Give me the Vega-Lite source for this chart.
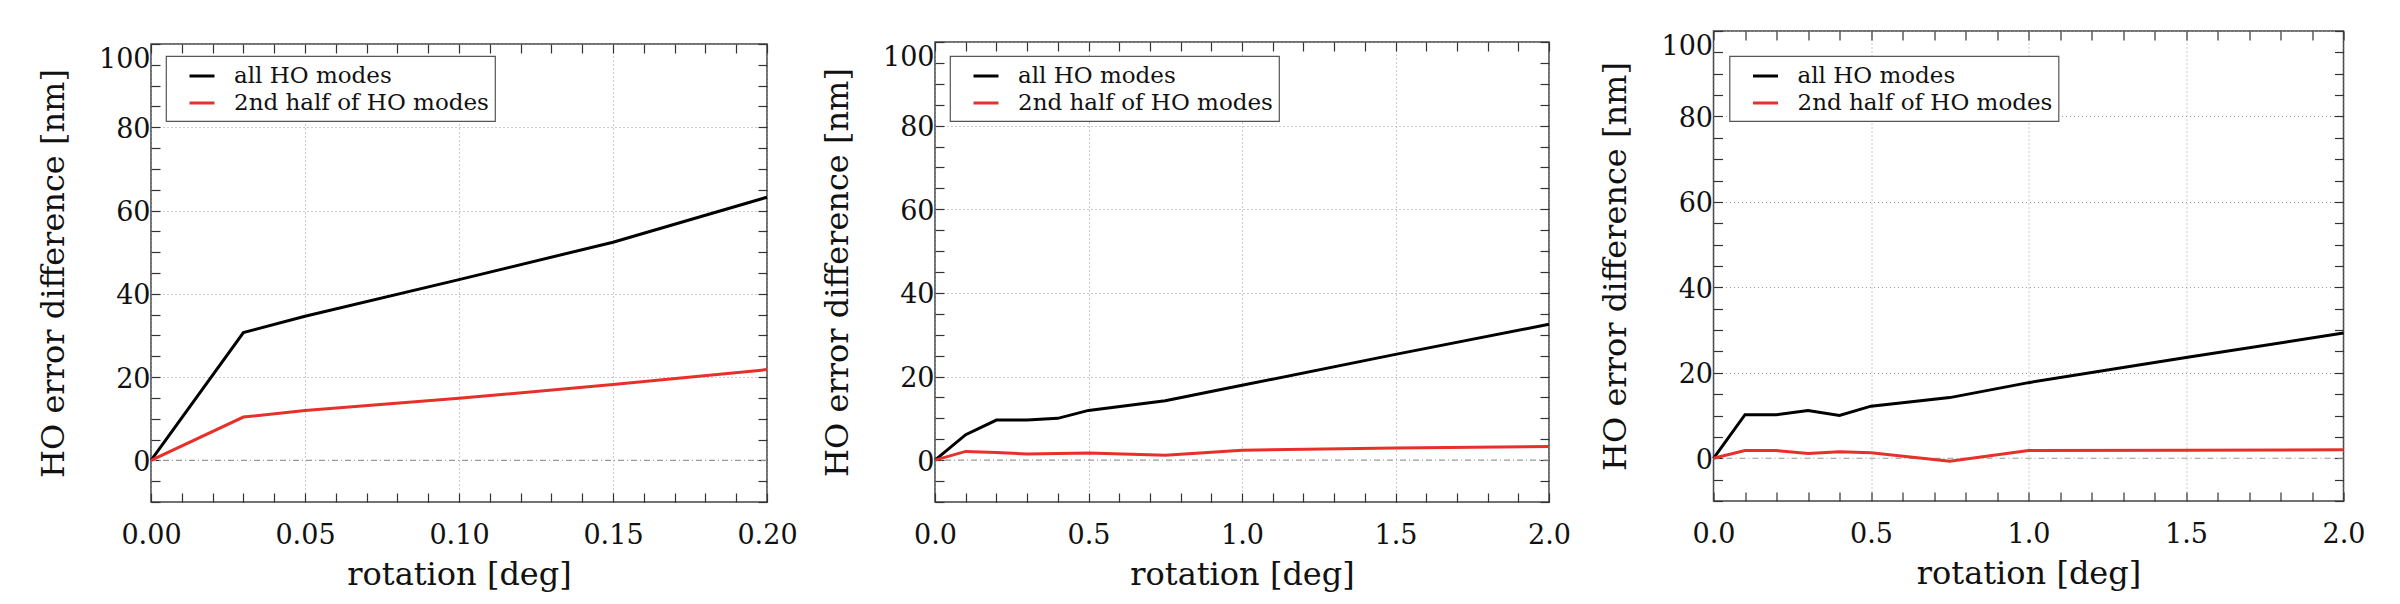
{
  "$schema": "https://vega.github.io/schema/vega-lite/v6.json",
  "padding": {"left": 36, "top": 29, "right": 5, "bottom": 5},
  "datasets": {
    "p1": [
      {"rotation": 0, "diff": 0, "series": "all HO modes"},
      {"rotation": 0.03, "diff": 30.7, "series": "all HO modes"},
      {"rotation": 0.05, "diff": 34.6, "series": "all HO modes"},
      {"rotation": 0.1, "diff": 43.4, "series": "all HO modes"},
      {"rotation": 0.15, "diff": 52.4, "series": "all HO modes"},
      {"rotation": 0.2, "diff": 63.2, "series": "all HO modes"},
      {"rotation": 0, "diff": 0, "series": "2nd half of HO modes"},
      {"rotation": 0.03, "diff": 10.4, "series": "2nd half of HO modes"},
      {"rotation": 0.05, "diff": 12.0, "series": "2nd half of HO modes"},
      {"rotation": 0.1, "diff": 14.9, "series": "2nd half of HO modes"},
      {"rotation": 0.15, "diff": 18.2, "series": "2nd half of HO modes"},
      {"rotation": 0.2, "diff": 21.8, "series": "2nd half of HO modes"}
    ],
    "p2": [
      {"rotation": 0, "diff": 0, "series": "all HO modes"},
      {"rotation": 0.1, "diff": 6.1, "series": "all HO modes"},
      {"rotation": 0.2, "diff": 9.6, "series": "all HO modes"},
      {"rotation": 0.3, "diff": 9.6, "series": "all HO modes"},
      {"rotation": 0.4, "diff": 10.0, "series": "all HO modes"},
      {"rotation": 0.5, "diff": 11.9, "series": "all HO modes"},
      {"rotation": 0.75, "diff": 14.2, "series": "all HO modes"},
      {"rotation": 1.0, "diff": 17.9, "series": "all HO modes"},
      {"rotation": 1.5, "diff": 25.3, "series": "all HO modes"},
      {"rotation": 2.0, "diff": 32.5, "series": "all HO modes"},
      {"rotation": 0, "diff": 0, "series": "2nd half of HO modes"},
      {"rotation": 0.1, "diff": 2.1, "series": "2nd half of HO modes"},
      {"rotation": 0.2, "diff": 1.85, "series": "2nd half of HO modes"},
      {"rotation": 0.3, "diff": 1.5, "series": "2nd half of HO modes"},
      {"rotation": 0.4, "diff": 1.6, "series": "2nd half of HO modes"},
      {"rotation": 0.5, "diff": 1.7, "series": "2nd half of HO modes"},
      {"rotation": 0.75, "diff": 1.2, "series": "2nd half of HO modes"},
      {"rotation": 1.0, "diff": 2.4, "series": "2nd half of HO modes"},
      {"rotation": 1.5, "diff": 2.9, "series": "2nd half of HO modes"},
      {"rotation": 2.0, "diff": 3.3, "series": "2nd half of HO modes"}
    ],
    "p3": [
      {"rotation": 0, "diff": 0, "series": "all HO modes"},
      {"rotation": 0.1, "diff": 10.2, "series": "all HO modes"},
      {"rotation": 0.2, "diff": 10.2, "series": "all HO modes"},
      {"rotation": 0.3, "diff": 11.2, "series": "all HO modes"},
      {"rotation": 0.4, "diff": 10.0, "series": "all HO modes"},
      {"rotation": 0.5, "diff": 12.2, "series": "all HO modes"},
      {"rotation": 0.75, "diff": 14.2, "series": "all HO modes"},
      {"rotation": 1.0, "diff": 17.7, "series": "all HO modes"},
      {"rotation": 1.5, "diff": 23.6, "series": "all HO modes"},
      {"rotation": 2.0, "diff": 29.3, "series": "all HO modes"},
      {"rotation": 0, "diff": 0, "series": "2nd half of HO modes"},
      {"rotation": 0.1, "diff": 1.8, "series": "2nd half of HO modes"},
      {"rotation": 0.2, "diff": 1.8, "series": "2nd half of HO modes"},
      {"rotation": 0.3, "diff": 1.1, "series": "2nd half of HO modes"},
      {"rotation": 0.4, "diff": 1.5, "series": "2nd half of HO modes"},
      {"rotation": 0.5, "diff": 1.3, "series": "2nd half of HO modes"},
      {"rotation": 0.75, "diff": -0.7, "series": "2nd half of HO modes"},
      {"rotation": 1.0, "diff": 1.8, "series": "2nd half of HO modes"},
      {"rotation": 1.5, "diff": 1.9, "series": "2nd half of HO modes"},
      {"rotation": 2.0, "diff": 2.0, "series": "2nd half of HO modes"}
    ]
  },
  "spacing": 22,
  "hconcat": [
    {
      "spacing": 0,
      "vconcat": [
        {
          "width": 616,
          "height": 10.5,
          "data": {"values": []},
          "mark": "point",
          "view": {"fill": "white", "stroke": null}
        },
        {
          "width": 616,
          "height": 458,
          "data": {"name": "p1"},
          "layer": [
            {
              "data": {"values": [{}]},
              "mark": {"type": "rule", "color": "#999999", "strokeDash": [6, 3, 1, 3], "strokeWidth": 1.2},
              "encoding": {"y": {"datum": 0, "type": "quantitative", "scale": {"domain": [-10, 100], "nice": false}, "axis": null}}
            },
            {
              "mark": {"type": "line", "strokeWidth": 3},
              "encoding": {
                "x": {
                  "field": "rotation", "type": "quantitative",
                  "scale": {"domain": [0, 0.2], "nice": false, "zero": false},
                  "axis": {
                    "orient": "bottom",
                    "values": [0, 0.01, 0.02, 0.03, 0.04, 0.05, 0.06, 0.07, 0.08, 0.09, 0.1, 0.11, 0.12, 0.13, 0.14, 0.15, 0.16, 0.17, 0.18, 0.19, 0.2],
                    "labelExpr": "abs(datum.value*20-round(datum.value*20))<0.001 ? format(datum.value, '.2f') : ''",
                    "grid": true,
                    "gridOpacity": {"condition": {"test": "abs(datum.value*20-round(datum.value*20))<0.001", "value": 1}, "value": 0},
                    "labelFlush": false,
                    "labelPadding": 29,
                    "title": "rotation [deg]",
                    "titlePadding": 11
                  }
                },
                "y": {
                  "field": "diff", "type": "quantitative",
                  "scale": {"domain": [-10, 100], "nice": false},
                  "axis": {
                    "orient": "left",
                    "values": [-10, -5, 0, 5, 10, 15, 20, 25, 30, 35, 40, 45, 50, 55, 60, 65, 70, 75, 80, 85, 90, 95, 100],
                    "labelExpr": "datum.value % 20 == 0 ? datum.label : ''",
                    "grid": true,
                    "gridOpacity": {"condition": {"test": "datum.value % 20 == 0 && datum.value != 0", "value": 1}, "value": 0},
                    "labelFlush": true,
                    "labelFlushOffset": 0,
                    "labelOffset": 2,
                    "labelPadding": 10,
                    "title": "HO error difference [nm]",
                    "titlePadding": 28
                  }
                },
                "color": {
                  "field": "series", "type": "nominal",
                  "scale": {"domain": ["all HO modes", "2nd half of HO modes"], "range": ["#000000", "#e8302b"]},
                  "legend": {"orient": "none", "legendX": 15, "legendY": 25}
                }
              }
            },
            {
              "mark": {"type": "line", "opacity": 0},
              "encoding": {
                "x": {
                  "field": "rotation", "type": "quantitative",
                  "scale": {"domain": [0, 0.2], "nice": false, "zero": false},
                  "axis": {
                    "orient": "top",
                    "values": [0, 0.01, 0.02, 0.03, 0.04, 0.05, 0.06, 0.07, 0.08, 0.09, 0.1, 0.11, 0.12, 0.13, 0.14, 0.15, 0.16, 0.17, 0.18, 0.19, 0.2],
                    "labels": false, "grid": false, "title": null
                  }
                },
                "y": {
                  "field": "diff", "type": "quantitative",
                  "scale": {"domain": [-10, 100], "nice": false},
                  "axis": {
                    "orient": "right",
                    "values": [-10, -5, 0, 5, 10, 15, 20, 25, 30, 35, 40, 45, 50, 55, 60, 65, 70, 75, 80, 85, 90, 95, 100],
                    "labels": false, "grid": false, "title": null
                  }
                }
              }
            }
          ],
          "resolve": {"axis": {"x": "independent", "y": "independent"}}
        }
      ]
    },
    {
      "spacing": 26.5,
      "hconcat": [
        {
          "spacing": 0,
          "vconcat": [
            {
              "width": 614,
              "height": 8.6,
              "data": {"values": []},
              "mark": "point",
              "view": {"fill": "white", "stroke": null}
            },
            {
              "width": 614,
              "height": 460,
              "data": {"name": "p2"},
              "layer": [
                {
                  "data": {"values": [{}]},
                  "mark": {"type": "rule", "color": "#999999", "strokeDash": [6, 3, 1, 3], "strokeWidth": 1.2},
                  "encoding": {"y": {"datum": 0, "type": "quantitative", "scale": {"domain": [-10, 100], "nice": false}, "axis": null}}
                },
                {
                  "mark": {"type": "line", "strokeWidth": 3},
                  "encoding": {
                    "x": {
                      "field": "rotation", "type": "quantitative",
                      "scale": {"domain": [0, 2], "nice": false, "zero": false},
                      "axis": {
                        "orient": "bottom",
                        "values": [0, 0.1, 0.2, 0.3, 0.4, 0.5, 0.6, 0.7, 0.8, 0.9, 1.0, 1.1, 1.2, 1.3, 1.4, 1.5, 1.6, 1.7, 1.8, 1.9, 2.0],
                        "labelExpr": "abs(datum.value*2-round(datum.value*2))<0.001 ? format(datum.value, '.1f') : ''",
                        "grid": true,
                        "gridOpacity": {"condition": {"test": "abs(datum.value*2-round(datum.value*2))<0.001", "value": 1}, "value": 0},
                        "labelFlush": false,
                        "labelPadding": 29,
                        "title": "rotation [deg]",
                        "titlePadding": 11
                      }
                    },
                    "y": {
                      "field": "diff", "type": "quantitative",
                      "scale": {"domain": [-10, 100], "nice": false},
                      "axis": {
                        "orient": "left",
                        "values": [-10, -5, 0, 5, 10, 15, 20, 25, 30, 35, 40, 45, 50, 55, 60, 65, 70, 75, 80, 85, 90, 95, 100],
                        "labelExpr": "datum.value % 20 == 0 ? datum.label : ''",
                        "grid": true,
                        "gridOpacity": {"condition": {"test": "datum.value % 20 == 0 && datum.value != 0", "value": 1}, "value": 0},
                        "labelFlush": true,
                        "labelFlushOffset": 0,
                        "labelOffset": 2,
                        "labelPadding": 10,
                        "title": "HO error difference [nm]",
                        "titlePadding": 28
                      }
                    },
                    "color": {
                      "field": "series", "type": "nominal",
                      "scale": {"domain": ["all HO modes", "2nd half of HO modes"], "range": ["#000000", "#e8302b"]},
                      "legend": {"orient": "none", "legendX": 15, "legendY": 25}
                    }
                  }
                },
                {
                  "mark": {"type": "line", "opacity": 0},
                  "encoding": {
                    "x": {
                      "field": "rotation", "type": "quantitative",
                      "scale": {"domain": [0, 2], "nice": false, "zero": false},
                      "axis": {
                        "orient": "top",
                        "values": [0, 0.1, 0.2, 0.3, 0.4, 0.5, 0.6, 0.7, 0.8, 0.9, 1.0, 1.1, 1.2, 1.3, 1.4, 1.5, 1.6, 1.7, 1.8, 1.9, 2.0],
                        "labels": false, "grid": false, "title": null
                      }
                    },
                    "y": {
                      "field": "diff", "type": "quantitative",
                      "scale": {"domain": [-10, 100], "nice": false},
                      "axis": {
                        "orient": "right",
                        "values": [-10, -5, 0, 5, 10, 15, 20, 25, 30, 35, 40, 45, 50, 55, 60, 65, 70, 75, 80, 85, 90, 95, 100],
                        "labels": false, "grid": false, "title": null
                      }
                    }
                  }
                }
              ],
              "resolve": {"axis": {"x": "independent", "y": "independent"}}
            }
          ]
        },
        {
          "width": 630,
          "height": 470,
          "data": {"name": "p3"},
          "layer": [
            {
              "data": {"values": [{}]},
              "mark": {"type": "rule", "color": "#999999", "strokeDash": [6, 3, 1, 3], "strokeWidth": 1.2},
              "encoding": {"y": {"datum": 0, "type": "quantitative", "scale": {"domain": [-10, 100], "nice": false}, "axis": null}}
            },
            {
              "mark": {"type": "line", "strokeWidth": 3},
              "encoding": {
                "x": {
                  "field": "rotation", "type": "quantitative",
                  "scale": {"domain": [0, 2], "nice": false, "zero": false},
                  "axis": {
                    "orient": "bottom",
                    "values": [0, 0.1, 0.2, 0.3, 0.4, 0.5, 0.6, 0.7, 0.8, 0.9, 1.0, 1.1, 1.2, 1.3, 1.4, 1.5, 1.6, 1.7, 1.8, 1.9, 2.0],
                    "labelExpr": "abs(datum.value*2-round(datum.value*2))<0.001 ? format(datum.value, '.1f') : ''",
                    "grid": true,
                    "gridOpacity": {"condition": {"test": "abs(datum.value*2-round(datum.value*2))<0.001", "value": 1}, "value": 0},
                    "labelFlush": false,
                    "labelPadding": 29,
                    "title": "rotation [deg]",
                    "titlePadding": 11
                  }
                },
                "y": {
                  "field": "diff", "type": "quantitative",
                  "scale": {"domain": [-10, 100], "nice": false},
                  "axis": {
                    "orient": "left",
                    "values": [-10, -5, 0, 5, 10, 15, 20, 25, 30, 35, 40, 45, 50, 55, 60, 65, 70, 75, 80, 85, 90, 95, 100],
                    "labelExpr": "datum.value % 20 == 0 ? datum.label : ''",
                    "grid": true,
                    "gridOpacity": {"condition": {"test": "datum.value % 20 == 0 && datum.value != 0", "value": 1}, "value": 0},
                    "labelFlush": true,
                    "labelFlushOffset": 0,
                    "labelOffset": 2,
                    "labelPadding": 10,
                    "title": "HO error difference [nm]",
                    "titlePadding": 28
                  }
                },
                "color": {
                  "field": "series", "type": "nominal",
                  "scale": {"domain": ["all HO modes", "2nd half of HO modes"], "range": ["#000000", "#e8302b"]},
                  "legend": {"orient": "none", "legendX": 16, "legendY": 25}
                }
              }
            },
            {
              "mark": {"type": "line", "opacity": 0},
              "encoding": {
                "x": {
                  "field": "rotation", "type": "quantitative",
                  "scale": {"domain": [0, 2], "nice": false, "zero": false},
                  "axis": {
                    "orient": "top",
                    "values": [0, 0.1, 0.2, 0.3, 0.4, 0.5, 0.6, 0.7, 0.8, 0.9, 1.0, 1.1, 1.2, 1.3, 1.4, 1.5, 1.6, 1.7, 1.8, 1.9, 2.0],
                    "labels": false, "grid": false, "title": null
                  }
                },
                "y": {
                  "field": "diff", "type": "quantitative",
                  "scale": {"domain": [-10, 100], "nice": false},
                  "axis": {
                    "orient": "right",
                    "values": [-10, -5, 0, 5, 10, 15, 20, 25, 30, 35, 40, 45, 50, 55, 60, 65, 70, 75, 80, 85, 90, 95, 100],
                    "labels": false, "grid": false, "title": null
                  }
                }
              }
            }
          ],
          "resolve": {"axis": {"x": "independent", "y": "independent"}}
        }
      ],
      "resolve": {"scale": {"color": "independent"}, "legend": {"color": "independent"}}
    }
  ],
  "resolve": {"scale": {"color": "independent"}, "legend": {"color": "independent"}},
  "config": {
    "font": "DejaVu Serif",
    "view": {"stroke": "#444444", "strokeWidth": 1.5},
    "axis": {
      "labelFont": "DejaVu Serif", "labelFontSize": 27, "labelColor": "#111111",
      "titleFont": "DejaVu Serif", "titleFontSize": 32, "titleFontWeight": "normal", "titleColor": "#111111",
      "domain": false, "tickColor": "#333333", "tickWidth": 1.2, "tickSize": -9,
      "gridColor": "#999999", "gridDash": [1, 3], "gridWidth": 1
    },
    "legend": {
      "title": null, "symbolType": "stroke", "symbolSize": 625, "symbolStrokeWidth": 3,
      "labelFont": "DejaVu Serif", "labelFontSize": 23, "labelColor": "#111111", "labelLimit": 500,
      "labelOffset": 18, "symbolOffset": 16, "padding": 6, "rowPadding": 1,
      "strokeColor": "#555555", "fillColor": "white", "strokeWidth": 1.2
    }
  }
}
